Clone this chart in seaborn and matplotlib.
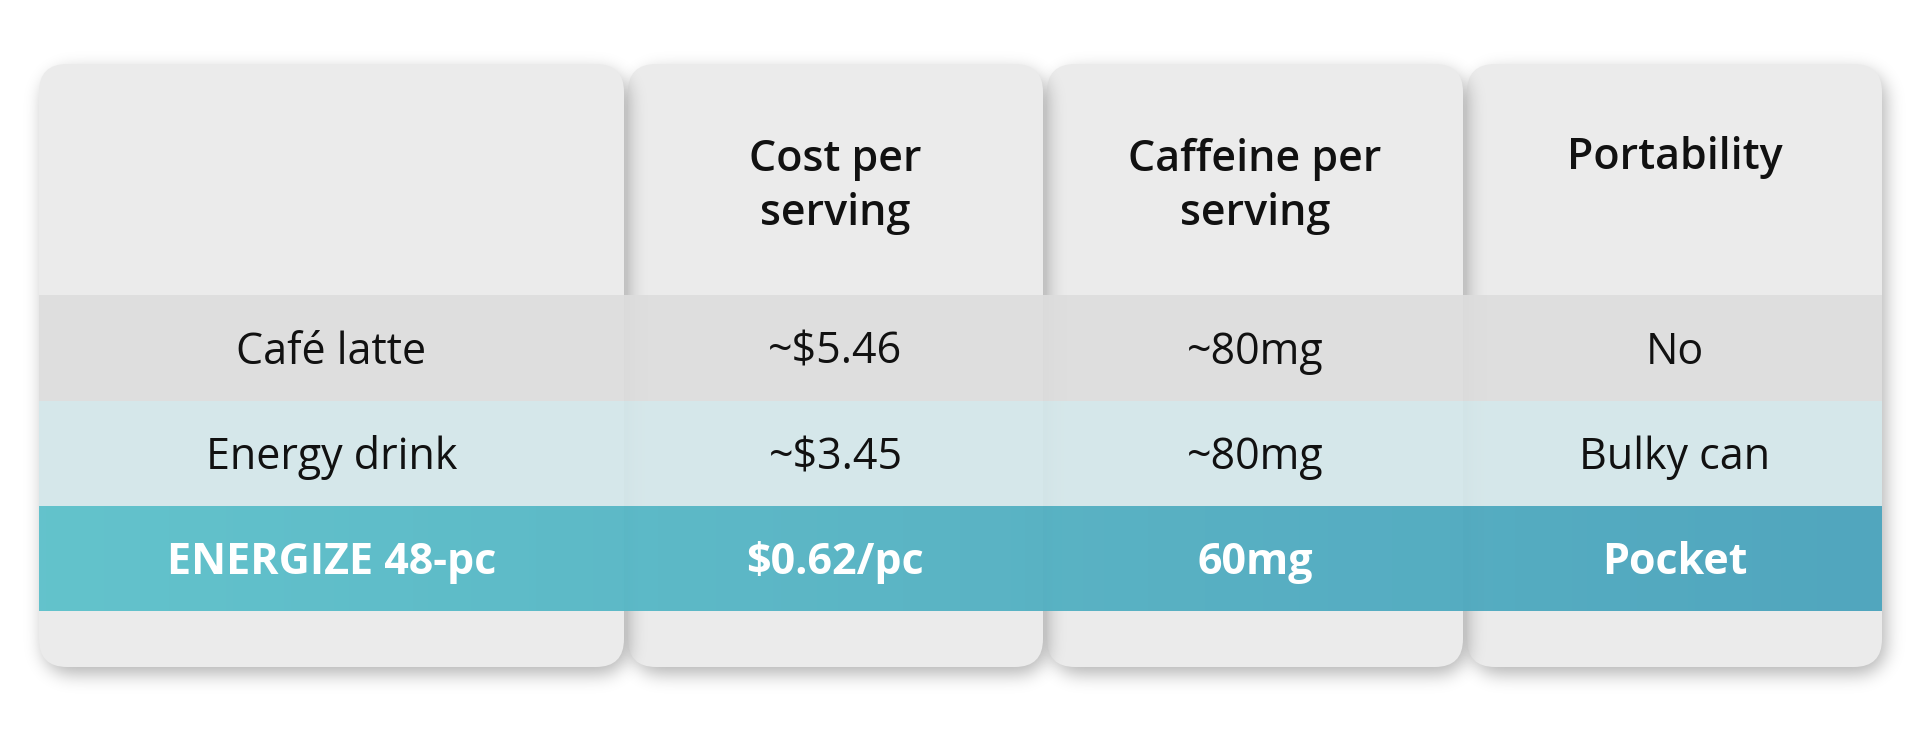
import numpy as np
import matplotlib
matplotlib.use('Agg')
import matplotlib.pyplot as plt
import seaborn as sns
from matplotlib.patches import FancyBboxPatch, Rectangle

# table content
headers = ['', 'Cost per\nserving', 'Caffeine per\nserving', 'Portability']
products = ['Café latte', 'Energy drink', 'ENERGIZE 48-pc']
cost = ['~$5.46', '~$3.45', '$0.62/pc']
caffeine = ['~80mg', '~80mg', '60mg']
portability = ['No', 'Bulky can', 'Pocket']

columns = [products, cost, caffeine, portability]

sns.set_theme(style='white')
plt.rcParams['font.family'] = ['Open Sans', 'DejaVu Sans']

W, H = 1920, 732
fig = plt.figure(figsize=(W / 100, H / 100), dpi=100)
fig.patch.set_facecolor('white')
ax = fig.add_axes([0, 0, 1, 1])
ax.set_xlim(0, W)
ax.set_ylim(H, 0)
ax.axis('off')

# layout in pixels
col_edges = [(39, 624), (628, 1043), (1047, 1463), (1467, 1882)]
top, bottom = 64, 667
row_edges = [295, 401, 506, 611]
radius = 28
line_gap = 56

card_bg = '#ebebeb'
row_colors = ['#dddddd', '#d4e7ea']
teal = sns.blend_palette(['#5dc1cb', '#4aa3bc'], n_colors=256, as_cmap=True)


def rounded_mask(x0, y0, x1, y1, r):
    yy, xx = np.mgrid[0:H, 0:W] + 0.5
    cx = np.clip(xx, x0 + r, x1 - r)
    cy = np.clip(yy, y0 + r, y1 - r)
    d = np.hypot(xx - cx, yy - cy)
    return np.clip(r - d + 0.5, 0, 1)


def blur(a, s):
    n = int(3 * s)
    k = np.exp(-0.5 * (np.arange(-n, n + 1) / s) ** 2)
    k /= k.sum()
    a = np.apply_along_axis(lambda v: np.convolve(v, k, mode='same'), 1, a)
    a = np.apply_along_axis(lambda v: np.convolve(v, k, mode='same'), 0, a)
    return a


# cards from right to left, so each card's shadow falls on its right neighbour
z = 1
for j in range(len(col_edges) - 1, -1, -1):
    x0, x1 = col_edges[j]
    m = blur(rounded_mask(x0 + 4, top + 7, x1 + 4, bottom + 7, radius), 9)
    shadow = np.zeros((H, W, 4))
    shadow[..., 3] = m * 0.30
    ax.imshow(shadow, extent=(0, W, H, 0), interpolation='bilinear', zorder=z, aspect='auto')
    card = FancyBboxPatch((x0, top), x1 - x0, bottom - top,
                          boxstyle=f'round,pad=0,rounding_size={radius}',
                          mutation_aspect=1, facecolor=card_bg, edgecolor='none', zorder=z + 1)
    ax.add_patch(card)
    z += 2

# row bands across the whole table
x_left, x_right = col_edges[0][0], col_edges[-1][1]
for i, c in enumerate(row_colors):
    ax.add_patch(Rectangle((x_left, row_edges[i]), x_right - x_left, row_edges[i + 1] - row_edges[i],
                           facecolor=c, edgecolor='none', alpha=0.93, zorder=z))
grad = np.linspace(0, 1, 512).reshape(1, -1)
ax.imshow(grad, cmap=teal, extent=(x_left, x_right, row_edges[3], row_edges[2]),
          aspect='auto', alpha=0.96, zorder=z)

# texts
txt_size = 31
for j, (x0, x1) in enumerate(col_edges):
    xc = (x0 + x1) / 2
    if headers[j]:
        n_lines = headers[j].count('\n') + 1
        # va='baseline' puts the last line on y
        ax.text(xc, 169 + line_gap * (n_lines - 1), headers[j], ha='center', va='baseline',
                fontsize=txt_size, fontweight='semibold', color='#111111',
                linespacing=1.32, zorder=z + 1)
    for i, val in enumerate(columns[j]):
        yb = (row_edges[i] + row_edges[i + 1]) / 2 + 16
        last = i == len(columns[j]) - 1
        ax.text(xc, yb, val, ha='center', va='baseline', fontsize=txt_size,
                fontweight='bold' if last else 'normal',
                color='white' if last else '#111111', zorder=z + 1)

fig.savefig('out.png', dpi=100, facecolor='white')
